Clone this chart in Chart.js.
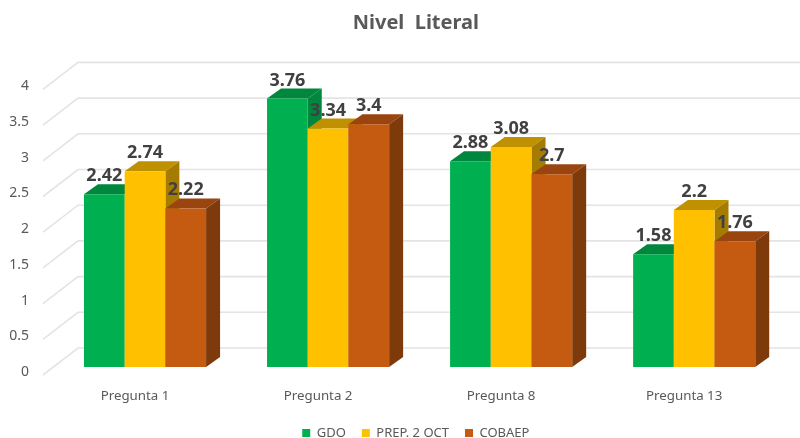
<!DOCTYPE html>
<html>
<head>
<meta charset="utf-8">
<style>
html,body{margin:0;padding:0;background:#fff;overflow:hidden}
#wrap{width:800px;height:438px;position:relative}
</style>
<script src="https://cdn.jsdelivr.net/npm/chart.js@4"></script>
</head>
<body>
<div id="wrap"><canvas id="c"></canvas></div>
<script>
const categories = ["Pregunta 1", "Pregunta 2", "Pregunta 8", "Pregunta 13"];
const gdo = [2.42, 3.76, 2.88, 1.58];
const prep = [2.74, 3.34, 3.08, 2.2];
const cobaep = [2.22, 3.4, 2.7, 1.76];
const yTicks = [0, 0.5, 1, 1.5, 2, 2.5, 3, 3.5, 4];

const FONT = '"Noto Sans", sans-serif';
const faces = [
  {front:'#00B050', top:'#00873D', side:'#00873D'},
  {front:'#FFC000', top:'#BF9000', side:'#A67C00'},
  {front:'#C55A11', top:'#9A4510', side:'#7F3A0B'}
];
const DX = 14, DY = 10;

const threeD = {
  id: 'threeD',
  afterLayout(chart) { chart.scales.y.left = 0; },
  beforeDatasetsDraw(chart) {
    const ctx = chart.ctx, y = chart.scales.y;
    ctx.save();
    ctx.strokeStyle = '#E4E4E4';
    ctx.lineWidth = 1.6;
    y.ticks.forEach(t => {
      const p = y.getPixelForValue(t.value);
      ctx.beginPath();
      ctx.moveTo(43, p + 8);
      ctx.lineTo(78, p - 19);
      ctx.lineTo(800, p - 19);
      ctx.stroke();
    });
    ctx.restore();
    chart.data.datasets.forEach((ds, i) => {
      const meta = chart.getDatasetMeta(i), f = faces[i];
      meta.data.forEach(bar => {
        const {x, y: top, base, width} = bar.getProps(['x', 'y', 'base', 'width'], true);
        const l = x - width / 2, r = x + width / 2;
        ctx.fillStyle = f.top;
        ctx.beginPath();
        ctx.moveTo(l, top); ctx.lineTo(l + DX, top - DY);
        ctx.lineTo(r + DX, top - DY); ctx.lineTo(r, top);
        ctx.closePath(); ctx.fill();
        ctx.fillStyle = f.side;
        ctx.beginPath();
        ctx.moveTo(r, top); ctx.lineTo(r + DX, top - DY);
        ctx.lineTo(r + DX, base - DY); ctx.lineTo(r, base);
        ctx.closePath(); ctx.fill();
        bar.draw(ctx);
      });
    });
  },
  beforeDatasetDraw() { return false; },
  afterDatasetsDraw(chart) {
    const ctx = chart.ctx;
    ctx.save();
    ctx.font = 'bold 18px ' + FONT;
    ctx.fillStyle = '#404040';
    ctx.textAlign = 'center';
    ctx.textBaseline = 'alphabetic';
    chart.data.datasets.forEach((ds, i) => {
      chart.getDatasetMeta(i).data.forEach((bar, j) => {
        ctx.fillText(String(ds.data[j]), bar.x, bar.y - 13);
      });
    });
    ctx.restore();
  }
};

new Chart(document.getElementById('c'), {
  type: 'bar',
  data: {
    labels: categories,
    datasets: [
      {label: 'GDO', data: gdo, backgroundColor: faces[0].front},
      {label: 'PREP. 2 OCT', data: prep, backgroundColor: faces[1].front},
      {label: 'COBAEP', data: cobaep, backgroundColor: faces[2].front}
    ]
  },
  options: {
    responsive: true,
    maintainAspectRatio: false,
    animation: false,
    layout: {padding: {left: 46, right: 14.3, top: 0, bottom: -11.5}},
    datasets: {bar: {barPercentage: 1, categoryPercentage: 0.667}},
    plugins: {
      title: {
        display: true,
        text: 'Nivel  Literal',
        color: '#595959',
        font: {family: FONT, size: 20, weight: 'bold'},
        padding: {top: 11, bottom: 46.4}
      },
      legend: {
        position: 'bottom',
        labels: {
          boxWidth: 8, boxHeight: 8, padding: 16,
          color: '#595959',
          font: {family: FONT, size: 13}
        }
      },
      tooltip: {enabled: false}
    },
    scales: {
      x: {
        grid: {display: false, drawTicks: false},
        border: {display: false},
        ticks: {color: '#595959', font: {family: FONT, size: 13.3}, padding: 21, labelOffset: -10, maxRotation: 0},
        afterFit(s) { s.height = 43.5; }
      },
      y: {
        min: 0, max: 4,
        grid: {display: false, drawTicks: false},
        border: {display: false},
        afterBuildTicks(s) { s.ticks = yTicks.map(v => ({value: v})); },
        ticks: {
          color: '#595959', font: {family: FONT, size: 14},
          padding: 24.5, labelOffset: 5,
          callback: v => String(v)
        },
        afterFit(s) { s.width = 7.5; }
      }
    }
  },
  plugins: [threeD]
});
</script>
</body>
</html>
